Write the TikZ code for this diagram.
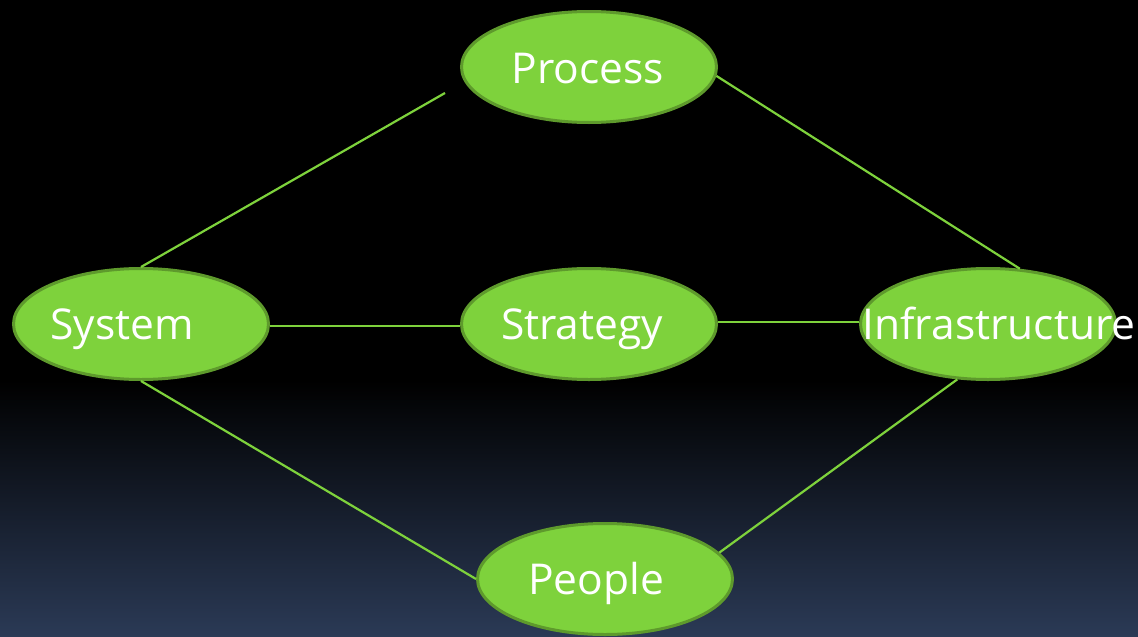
\documentclass[tikz,border=0pt]{standalone}
\usepackage{fontspec}
\setmainfont{Open Sans}
\usetikzlibrary{shapes.geometric}
\definecolor{leaf}{RGB}{126,210,60}
\definecolor{leafdark}{RGB}{94,154,44}
\definecolor{nightblue}{RGB}{43,58,86}
\tikzset{
  blob/.style={ellipse, fill=leaf, draw=leafdark, line width=3pt,
    minimum width=255pt, minimum height=111pt, inner sep=0pt},
  lbl/.style={anchor=base, inner sep=0pt, text=white,
    font=\fontsize{42.5}{50}\selectfont},
  link/.style={draw=leaf, line width=2.2pt}
}
\begin{document}
\begin{tikzpicture}[x=1pt,y=-1pt]
  \useasboundingbox (0,0) rectangle (1138,637);
  % backdrop: black fading to dark blue at the bottom
  \fill[black] (0,0) rectangle (1138,381);
  \shade[top color=black, bottom color=nightblue] (0,380) rectangle (1138,637);

  % ellipses
  \node[blob] (process) at (589,67) {};
  \node[blob] (system)  at (141,324) {};
  \node[blob] (strategy) at (589,324) {};
  \node[blob] (infra)   at (988,324) {};
  \node[blob] (people)  at (605,579) {};

  % free end of the system-process link
  \coordinate (procgap) at (445,93);

  % links
  \draw[link] (system.north) -- (procgap);
  \draw[link] (process.-4) -- (infra.60);
  \draw[link] (system.-1.5) -- (strategy.181.5);
  \draw[link] (strategy.1) -- (infra.179);
  \draw[link] (system.south) -- (people.west);
  \draw[link] (people.13) -- (infra.241);

  % labels
  \node[lbl] (process-t)  at (588,83)  {Process};
  \node[lbl] (system-t)   at (122,339) {System};
  \node[lbl] (strategy-t) at (582,339) {Strategy};
  \node[lbl] (infra-t)    at (999,339) {Infrastructure};
  \node[lbl] (people-t)   at (596,594) {People};
\end{tikzpicture}
\end{document}
